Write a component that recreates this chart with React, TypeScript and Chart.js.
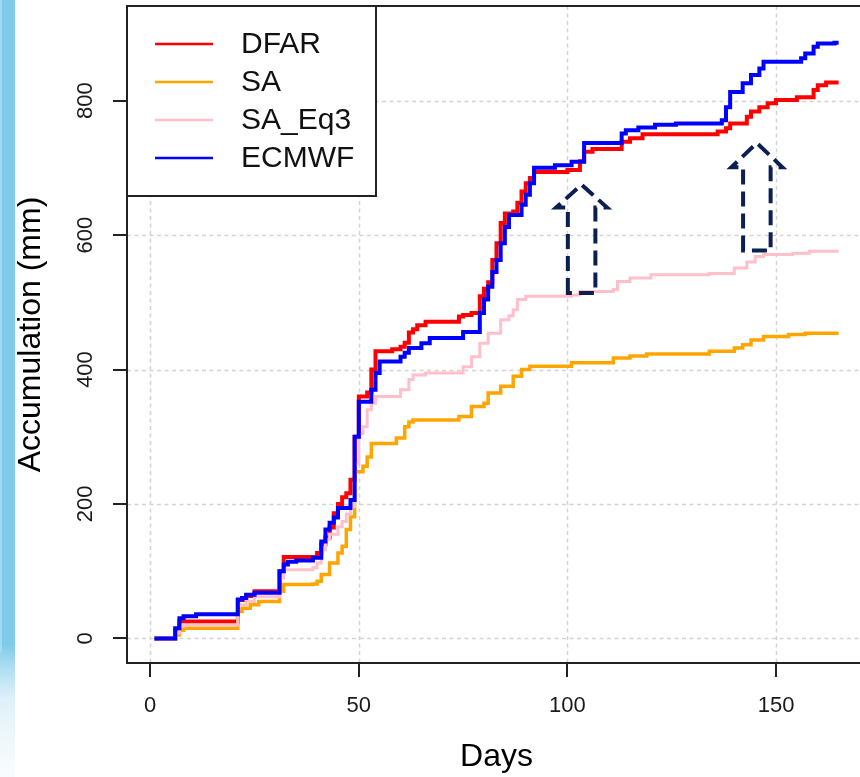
import { useEffect, useRef } from 'react';
import { Chart, registerables } from 'chart.js';

Chart.register(...registerables);

// ---------------- data ----------------
const X_TICKS = [0, 50, 100, 150];
const Y_TICKS = [0, 200, 400, 600, 800];
const X_RANGE = [-5.56, 171.56];
const Y_RANGE = [-36.6, 940.8];

const SERIES_NAMES = ['DFAR', 'SA', 'SA_Eq3', 'ECMWF'];
const SERIES_COLORS = ['#ff0000', '#ffa500', '#ffc0cb', '#0000ff'];

const dfarDays = [1, 6, 7, 20, 21, 23, 25, 31, 32, 40, 41, 42, 43, 44, 45, 46, 47, 48, 49, 50, 52, 53, 54, 58, 60, 61, 62, 63, 64, 66, 74, 75, 77, 79, 80, 81, 82, 83, 84, 85, 87, 88, 89, 90, 91, 92, 100, 103, 104, 106, 113, 115, 118, 136, 138, 139, 143, 144, 146, 148, 150, 155, 159, 160, 162, 165];
const dfarValues = [0, 12, 25, 25, 57, 63, 70, 100, 121, 127, 140, 150, 165, 186, 200, 210, 216, 236, 300, 360, 366, 400, 427, 430, 434, 440, 455, 460, 466, 471, 479, 481, 484, 509, 520, 530, 563, 588, 618, 632, 635, 648, 665, 677, 685, 694, 697, 710, 724, 728, 739, 744, 750, 754, 759, 766, 776, 784, 790, 796, 801, 805, 816, 823, 827, 827];

const saDays = [1, 6, 7, 8, 20, 21, 22, 24, 26, 31, 32, 39, 40, 41, 43, 45, 46, 47, 48, 49, 51, 52, 53, 59, 61, 62, 63, 74, 77, 80, 81, 84, 87, 89, 91, 101, 111, 115, 119, 134, 140, 142, 144, 147, 153, 157, 165];
const saValues = [0, 5, 12, 15, 15, 40, 45, 50, 55, 70, 80, 81, 85, 95, 112, 127, 137, 162, 181, 248, 256, 270, 290, 298, 315, 322, 325, 330, 345, 350, 365, 375, 390, 400, 405, 410, 417, 420, 423, 427, 432, 437, 444, 449, 452, 454, 454];

const saEq3Days = [1, 6, 7, 8, 20, 21, 23, 25, 31, 32, 39, 40, 41, 42, 43, 45, 46, 47, 48, 49, 50, 51, 52, 53, 54, 60, 62, 63, 66, 75, 77, 79, 81, 84, 86, 87, 88, 90, 101, 103, 111, 112, 115, 120, 134, 140, 143, 145, 147, 154, 158, 165];
const saEq3Values = [0, 8, 18, 20, 20, 50, 55, 62, 90, 102, 105, 112, 132, 147, 155, 166, 174, 185, 196, 260, 305, 315, 340, 350, 360, 370, 385, 392, 395, 404, 419, 439, 454, 474, 480, 489, 504, 509, 511, 516, 519, 531, 536, 541, 543, 551, 560, 568, 571, 573, 576, 576];

const ecmwfDays = [1, 6, 7, 8, 11, 20, 21, 22, 23, 25, 31, 32, 33, 35, 39, 41, 42, 43, 44, 45, 48, 49, 50, 53, 54, 55, 60, 61, 62, 65, 67, 75, 79, 80, 81, 82, 83, 84, 85, 86, 89, 90, 91, 92, 97, 101, 104, 113, 114, 117, 121, 126, 137, 138, 139, 142, 144, 146, 147, 156, 157, 159, 160, 164, 165];
const ecmwfValues = [0, 15, 30, 33, 36, 36, 58, 60, 65, 68, 100, 110, 114, 116, 120, 144, 162, 172, 180, 194, 206, 300, 352, 370, 395, 412, 419, 425, 432, 439, 447, 456, 484, 504, 523, 545, 563, 588, 612, 630, 645, 660, 677, 700, 704, 709, 737, 751, 756, 760, 764, 766, 771, 790, 813, 826, 838, 848, 858, 863, 870, 880, 885, 886, 886];

// annotation arrows (data coordinates): centre day, tip value, head-base value, shaft-bottom value
const ARROW_DAYS = [103.4, 145.4];
const ARROW_TIPS = [675, 737];
const ARROW_HEAD_BASES = [641, 701];
const ARROW_BOTTOMS = [514, 577];

const X_TITLE = 'Days';
const Y_TITLE = 'Accumulation (mm)';

const FONT = 'Arial, "Liberation Sans", Helvetica, sans-serif';

function pts(days: number[], values: number[]) {
  return days.map((d, i) => ({ x: d, y: values[i] }));
}

const rStylePlugin = {
  id: 'rStyle',
  beforeDraw(chart: any) {
    const ctx = chart.ctx as CanvasRenderingContext2D;
    const { left, right, top, bottom } = chart.chartArea;
    const xs = chart.scales.x;
    const ys = chart.scales.y;
    ctx.save();
    ctx.fillStyle = '#ffffff';
    ctx.fillRect(0, 0, chart.width, chart.height);
    // decorative left strip
    const g = ctx.createLinearGradient(0, 0, 0, chart.height);
    g.addColorStop(0, '#7fcbea');
    g.addColorStop(0.83, '#7fcbea');
    g.addColorStop(0.9, 'rgba(200,230,245,0.6)');
    g.addColorStop(1, 'rgba(240,248,252,0.4)');
    ctx.fillStyle = g;
    ctx.fillRect(0, 0, 15, chart.height);
    ctx.fillStyle = 'rgba(170,222,242,0.8)';
    ctx.fillRect(0, 0, 2, chart.height * 0.84);
    // dotted grid
    ctx.strokeStyle = '#d3d3d3';
    ctx.lineWidth = 1.5;
    ctx.setLineDash([4, 3.5]);
    for (const t of X_TICKS) {
      const px = Math.round(xs.getPixelForValue(t)) + 0.5;
      ctx.beginPath();
      ctx.moveTo(px, top);
      ctx.lineTo(px, bottom);
      ctx.stroke();
    }
    for (const t of Y_TICKS) {
      const py = Math.round(ys.getPixelForValue(t)) + 0.5;
      ctx.beginPath();
      ctx.moveTo(left, py);
      ctx.lineTo(right, py);
      ctx.stroke();
    }
    ctx.restore();
  },
  afterDatasetsDraw(chart: any) {
    const ctx = chart.ctx as CanvasRenderingContext2D;
    const { left, right, top, bottom } = chart.chartArea;
    const xs = chart.scales.x;
    const ys = chart.scales.y;
    ctx.save();

    // arrows
    ctx.strokeStyle = '#0b1f52';
    ctx.lineWidth = 4;
    ctx.setLineDash([15, 7]);
    ctx.lineJoin = 'miter';
    for (let i = 0; i < ARROW_DAYS.length; i++) {
      const c = xs.getPixelForValue(ARROW_DAYS[i]);
      const shaftHalf = xs.getPixelForValue(ARROW_DAYS[i] + 3.3) - c;
      const wingHalf = xs.getPixelForValue(ARROW_DAYS[i] + 6.1) - c;
      const tipY = ys.getPixelForValue(ARROW_TIPS[i]);
      const baseY = ys.getPixelForValue(ARROW_HEAD_BASES[i]);
      const botY = ys.getPixelForValue(ARROW_BOTTOMS[i]);
      ctx.beginPath();
      ctx.moveTo(c - shaftHalf, botY);
      ctx.lineTo(c - shaftHalf, baseY);
      ctx.lineTo(c - wingHalf, baseY);
      ctx.lineTo(c, tipY);
      ctx.lineTo(c + wingHalf, baseY);
      ctx.lineTo(c + shaftHalf, baseY);
      ctx.lineTo(c + shaftHalf, botY);
      ctx.closePath();
      ctx.stroke();
    }
    ctx.setLineDash([]);

    // box
    ctx.strokeStyle = '#222222';
    ctx.lineWidth = 2;
    ctx.strokeRect(left, top, right - left, bottom - top);

    // ticks
    ctx.beginPath();
    for (const t of X_TICKS) {
      const px = Math.round(xs.getPixelForValue(t));
      ctx.moveTo(px, bottom);
      ctx.lineTo(px, bottom + 14);
    }
    for (const t of Y_TICKS) {
      const py = Math.round(ys.getPixelForValue(t));
      ctx.moveTo(left, py);
      ctx.lineTo(left - 14, py);
    }
    ctx.stroke();

    // tick labels
    ctx.fillStyle = '#1a1a1a';
    ctx.font = `22px ${FONT}`;
    ctx.textAlign = 'center';
    ctx.textBaseline = 'middle';
    for (const t of X_TICKS) {
      ctx.fillText(String(t), xs.getPixelForValue(t), bottom + 43);
    }
    for (const t of Y_TICKS) {
      ctx.save();
      ctx.translate(left - 41, ys.getPixelForValue(t));
      ctx.rotate(-Math.PI / 2);
      ctx.fillText(String(t), 0, 0);
      ctx.restore();
    }

    // axis titles
    ctx.fillStyle = '#000000';
    ctx.font = `32px ${FONT}`;
    ctx.fillText(X_TITLE, (left + right) / 2, bottom + 94);
    ctx.save();
    ctx.translate(left - 96, (top + bottom) / 2);
    ctx.rotate(-Math.PI / 2);
    ctx.fillText(Y_TITLE, 0, 0);
    ctx.restore();

    // legend
    const lx = left;
    const ly = top;
    ctx.fillStyle = '#ffffff';
    ctx.fillRect(lx, ly, 249, 190);
    ctx.strokeStyle = '#222222';
    ctx.lineWidth = 2;
    ctx.strokeRect(lx, ly, 249, 190);
    ctx.font = `30px ${FONT}`;
    ctx.textAlign = 'left';
    for (let i = 0; i < SERIES_NAMES.length; i++) {
      const yy = ly + 38 + i * 38;
      ctx.strokeStyle = SERIES_COLORS[i];
      ctx.lineWidth = 2.5;
      ctx.beginPath();
      ctx.moveTo(lx + 28, yy);
      ctx.lineTo(lx + 86, yy);
      ctx.stroke();
      ctx.fillStyle = '#111111';
      ctx.fillText(SERIES_NAMES[i], lx + 114, yy + 1);
    }
    ctx.restore();
  },
};

export default function App() {
  const ref = useRef<HTMLCanvasElement | null>(null);
  useEffect(() => {
    if (!ref.current) return;
    const seriesData = [
      pts(dfarDays, dfarValues),
      pts(saDays, saValues),
      pts(saEq3Days, saEq3Values),
      pts(ecmwfDays, ecmwfValues),
    ];
    const widths = [4, 3.5, 3, 4];
    const chart = new Chart(ref.current, {
      type: 'line',
      data: {
        datasets: SERIES_NAMES.map((name, i) => ({
          label: name,
          data: seriesData[i],
          borderColor: SERIES_COLORS[i],
          backgroundColor: SERIES_COLORS[i],
          borderWidth: widths[i],
          stepped: true,
          pointRadius: 0,
          fill: false,
          order: SERIES_NAMES.length - i,
          borderJoinStyle: 'miter',
        })),
      },
      options: {
        animation: false,
        responsive: false,
        devicePixelRatio: 1,
        layout: { padding: { left: 127, top: 6, right: 14, bottom: 114 } },
        plugins: { legend: { display: false }, tooltip: { enabled: false } },
        scales: {
          x: { type: 'linear', min: X_RANGE[0], max: X_RANGE[1], display: false },
          y: { type: 'linear', min: Y_RANGE[0], max: Y_RANGE[1], display: false },
        },
      },
      plugins: [rStylePlugin],
    });
    return () => chart.destroy();
  }, []);
  return (
    <div style={{ position: 'fixed', left: 0, top: 0, width: 860, height: 777, overflow: 'hidden', background: '#fff' }}>
      <canvas ref={ref} width={880} height={777} style={{ display: 'block' }} />
    </div>
  );
}
